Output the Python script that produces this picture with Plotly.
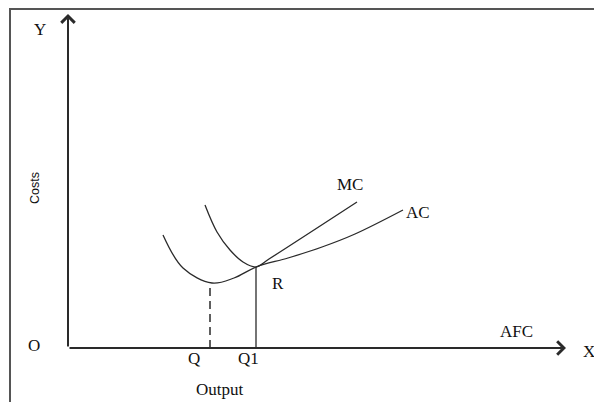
import plotly.graph_objects as go

# Curve points (x: output units from O, y: cost units from O)
ac_x = [95, 115, 144, 166, 188, 220, 254, 287, 335]
ac_y = [113, 80, 65, 70, 81, 90, 101, 114, 138]
mc_x = [137, 149, 162, 175, 188, 201, 289]
mc_y = [143, 116, 98, 86, 81, 89, 146]

q_x = 142      # minimum of AC
q_top = 65
q1_x = 188     # point R
q1_top = 81

x_end = 498
y_end = 334

labels = [
    ("Y", -28, 319), ("O", -34, 3), ("X", 521, -3),
    ("Q", 126, -10), ("Q1", 180, -10), ("Output", 152, -41),
    ("AFC", 448, 17), ("MC", 282, 164), ("AC", 350, 136), ("R", 210, 65),
]

line_col = "#2a2a2a"
serif = "Liberation Serif"

fig = go.Figure()
fig.add_trace(go.Scatter(x=ac_x, y=ac_y, mode="lines", line=dict(color=line_col, width=1.3, shape="spline"),
                         hoverinfo="skip"))
fig.add_trace(go.Scatter(x=mc_x, y=mc_y, mode="lines", line=dict(color=line_col, width=1.3, shape="spline"),
                         hoverinfo="skip"))
fig.add_trace(go.Scatter(x=[q_x, q_x], y=[0, q_top], mode="lines",
                         line=dict(color=line_col, width=1.5, dash="8px,5px"), hoverinfo="skip"))
fig.add_trace(go.Scatter(x=[q1_x, q1_x], y=[0, q1_top], mode="lines",
                         line=dict(color=line_col, width=1.3), hoverinfo="skip"))

annotations = []
# axes with open arrowheads
annotations.append(dict(x=0, y=y_end, ax=0, ay=0, xref="x", yref="y", axref="x", ayref="y",
                        showarrow=True, arrowhead=4, arrowsize=1.3, arrowwidth=2, arrowcolor=line_col, text=""))
annotations.append(dict(x=x_end, y=0, ax=0, ay=0, xref="x", yref="y", axref="x", ayref="y",
                        showarrow=True, arrowhead=4, arrowsize=1.3, arrowwidth=2, arrowcolor=line_col, text=""))
for t, x, y in labels:
    annotations.append(dict(x=x, y=y, xref="x", yref="y", text=t, showarrow=False,
                            font=dict(family=serif, size=17, color="#111")))
annotations.append(dict(x=-33, y=160, xref="x", yref="y", text="Costs", showarrow=False, textangle=-90,
                        font=dict(family="Liberation Sans", size=12.5, color="#111")))

shapes = [
    dict(type="line", xref="paper", yref="paper", x0=1 / 602, x1=1, y0=1 - 1 / 402, y1=1 - 1 / 402,
         line=dict(color="#555", width=2)),
    dict(type="line", xref="paper", yref="paper", x0=2 / 602, x1=2 / 602, y0=0, y1=1 - 1 / 402,
         line=dict(color="#555", width=2)),
]

fig.update_layout(
    width=602, height=402, margin=dict(l=0, r=0, t=0, b=0),
    paper_bgcolor="white", plot_bgcolor="white", showlegend=False,
    xaxis=dict(range=[-60, 542], visible=False, fixedrange=True),
    yaxis=dict(range=[-62, 340], visible=False, fixedrange=True),
    annotations=annotations, shapes=shapes,
)
fig.write_html("out.html")
